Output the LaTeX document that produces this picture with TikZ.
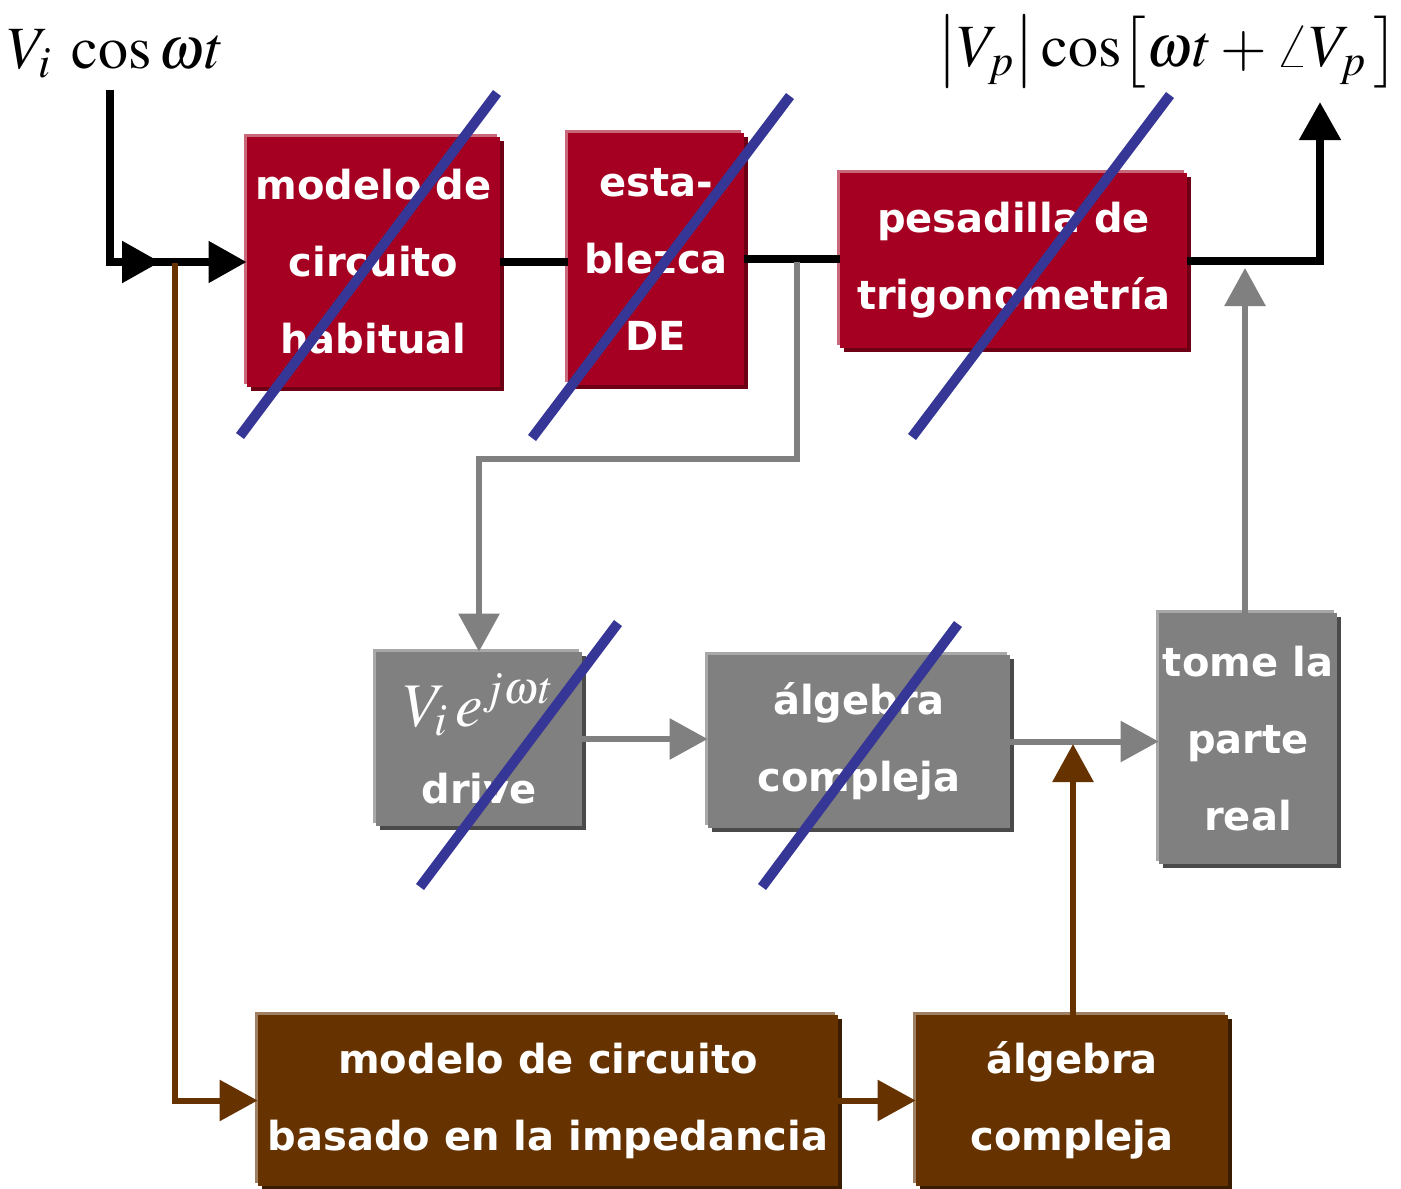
\documentclass[tikz,border=0pt]{standalone}
\usepackage{mathptmx}
\usepackage{fontspec}
\setmainfont{DejaVu Sans}
\usepackage{tikz}
\usetikzlibrary{arrows.meta}
\usetikzlibrary{decorations.markings}
\usetikzlibrary{shadows}
\definecolor{mred}{HTML}{A50021}
\definecolor{mredl}{HTML}{C8687A}
\definecolor{mredd}{HTML}{6E0016}
\definecolor{mgray}{HTML}{808080}
\definecolor{mgrayl}{HTML}{A8A8A8}
\definecolor{mgrayd}{HTML}{4A4A4A}
\definecolor{mbrown}{HTML}{663300}
\definecolor{mbrownl}{HTML}{A08062}
\definecolor{mbrownd}{HTML}{3A1C00}
\definecolor{mblue}{HTML}{363696}
\tikzset{->-/.style = {decoration={markings,
                                   mark=at position #1 with {\arrow{Triangle[length=19pt,width=20pt]}}},
                       postaction={decorate}}}
\tikzset{tip/.style = {-{Triangle[length=19pt,width=20pt]}}}
\tikzset{blk/.style = {inner sep = 0, align = center, text = white,
                       font = \fontsize{20}{38.5}\selectfont\bfseries}}
\tikzset{redbox/.style = {blk, fill = mred,
                          general shadow = {shadow xshift = -1.5pt, shadow yshift = 1.5pt, fill = mredl},
                          general shadow = {shadow xshift = 2pt, shadow yshift = -2pt, fill = mredd}}}
\tikzset{graybox/.style = {blk, fill = mgray,
                           general shadow = {shadow xshift = -1.5pt, shadow yshift = 1.5pt, fill = mgrayl},
                           general shadow = {shadow xshift = 2pt, shadow yshift = -2pt, fill = mgrayd}}}
\tikzset{brownbox/.style = {blk, fill = mbrown,
                            general shadow = {shadow xshift = -1.5pt, shadow yshift = 1.5pt, fill = mbrownl},
                            general shadow = {shadow xshift = 2pt, shadow yshift = -2pt, fill = mbrownd}}}
\tikzset{blackline/.style = {line width = 4pt, black},
         grayline/.style = {line width = 3pt, mgray},
         brownline/.style = {line width = 3pt, mbrown},
         tachar/.style = {line width = 5pt, mblue}}

\begin{document}
\begin{tikzpicture}[x = 0.5pt, y = -0.5pt]
    \useasboundingbox (0, 0) rectangle (1401, 1188);

    % labels
    \node (vin) at (116, 54) {\fontsize{30}{30}\selectfont $V_{i}\;\cos\omega t$};
    \node (vout) at (1168, 52) {\fontsize{30}{30}\selectfont $\bigl|V_p\bigr|\cos\bigl[\omega t+\angle V_p\,\bigr]$};
    \coordinate (in) at (110, 90);
    \coordinate (out) at (1320, 102);
    \coordinate (split) at (175, 263);
    \coordinate (tap) at (797, 262);
    \coordinate (tapout) at (1245, 268);
    \coordinate (tapin) at (1073, 744);

    % top row
    \node [redbox, minimum width = 126.5pt, minimum height = 125pt] (m1) at (373.5, 262)
      {modelo de\\circuito\\habitual};
    \node [redbox, minimum width = 88pt, minimum height = 126pt] (m2) at (656, 259)
      {esta-\\blezca\\DE};
    \node [redbox, minimum width = 173.5pt, minimum height = 87.5pt] (m3) at (1013.5, 260.5)
      {pesadilla de\\trigonometría};

    % middle row
    \node [graybox, minimum width = 103pt, minimum height = 87pt] (p1) at (479, 739)
      {{\fontsize{31}{31}\selectfont\mdseries $V_i\,e^{j\omega t}$}\\drive};
    \node [graybox, minimum width = 151pt, minimum height = 86.5pt] (p2) at (859, 741.5)
      {álgebra\\compleja};
    \node [graybox, minimum width = 89pt, minimum height = 125.5pt] (p3) at (1248, 738.5)
      {tome la\\parte\\real};

    % bottom row
    \node [brownbox, minimum width = 290pt, minimum height = 85.5pt] (b1) at (548, 1100.5)
      {modelo de circuito\\basado en la impedancia};
    \node [brownbox, minimum width = 156pt, minimum height = 85.5pt] (b2) at (1072, 1100.5)
      {álgebra\\compleja};

    % time domain path
    \draw [blackline, ->-=0.72, tip] (in) |- (m1.west);
    \draw [blackline] (m1.east) -- (m1.east -| m2.west);
    \draw [blackline] (m2.east) -- (m2.east -| m3.west);
    \draw [blackline, tip] (m3.east) -| (out);

    % phasor path
    \draw [grayline, tip] (tap) -- ++(0, 197) -| (p1.north);
    \draw [grayline, tip] (p1.east) -- (p1.east -| p2.west);
    \draw [grayline, tip] (p2.east) -- (p2.east -| p3.west);
    \draw [grayline, tip] (p3.north -| tapout) -- (tapout);

    % impedance path
    \draw [brownline, tip] (split) |- (b1.west);
    \draw [brownline, tip] (b1.east) -- (b1.east -| b2.west);
    \draw [brownline, tip] (b2.north -| tapin) -- (tapin);

    % struck out
    \draw [tachar] (240, 436) -- (497, 93);
    \draw [tachar] (532, 438) -- (790, 96);
    \draw [tachar] (912, 437) -- (1170, 95);
    \draw [tachar] (420, 887) -- (618, 623);
    \draw [tachar] (762, 887) -- (958, 624);
  \end{tikzpicture}
\end{document}
